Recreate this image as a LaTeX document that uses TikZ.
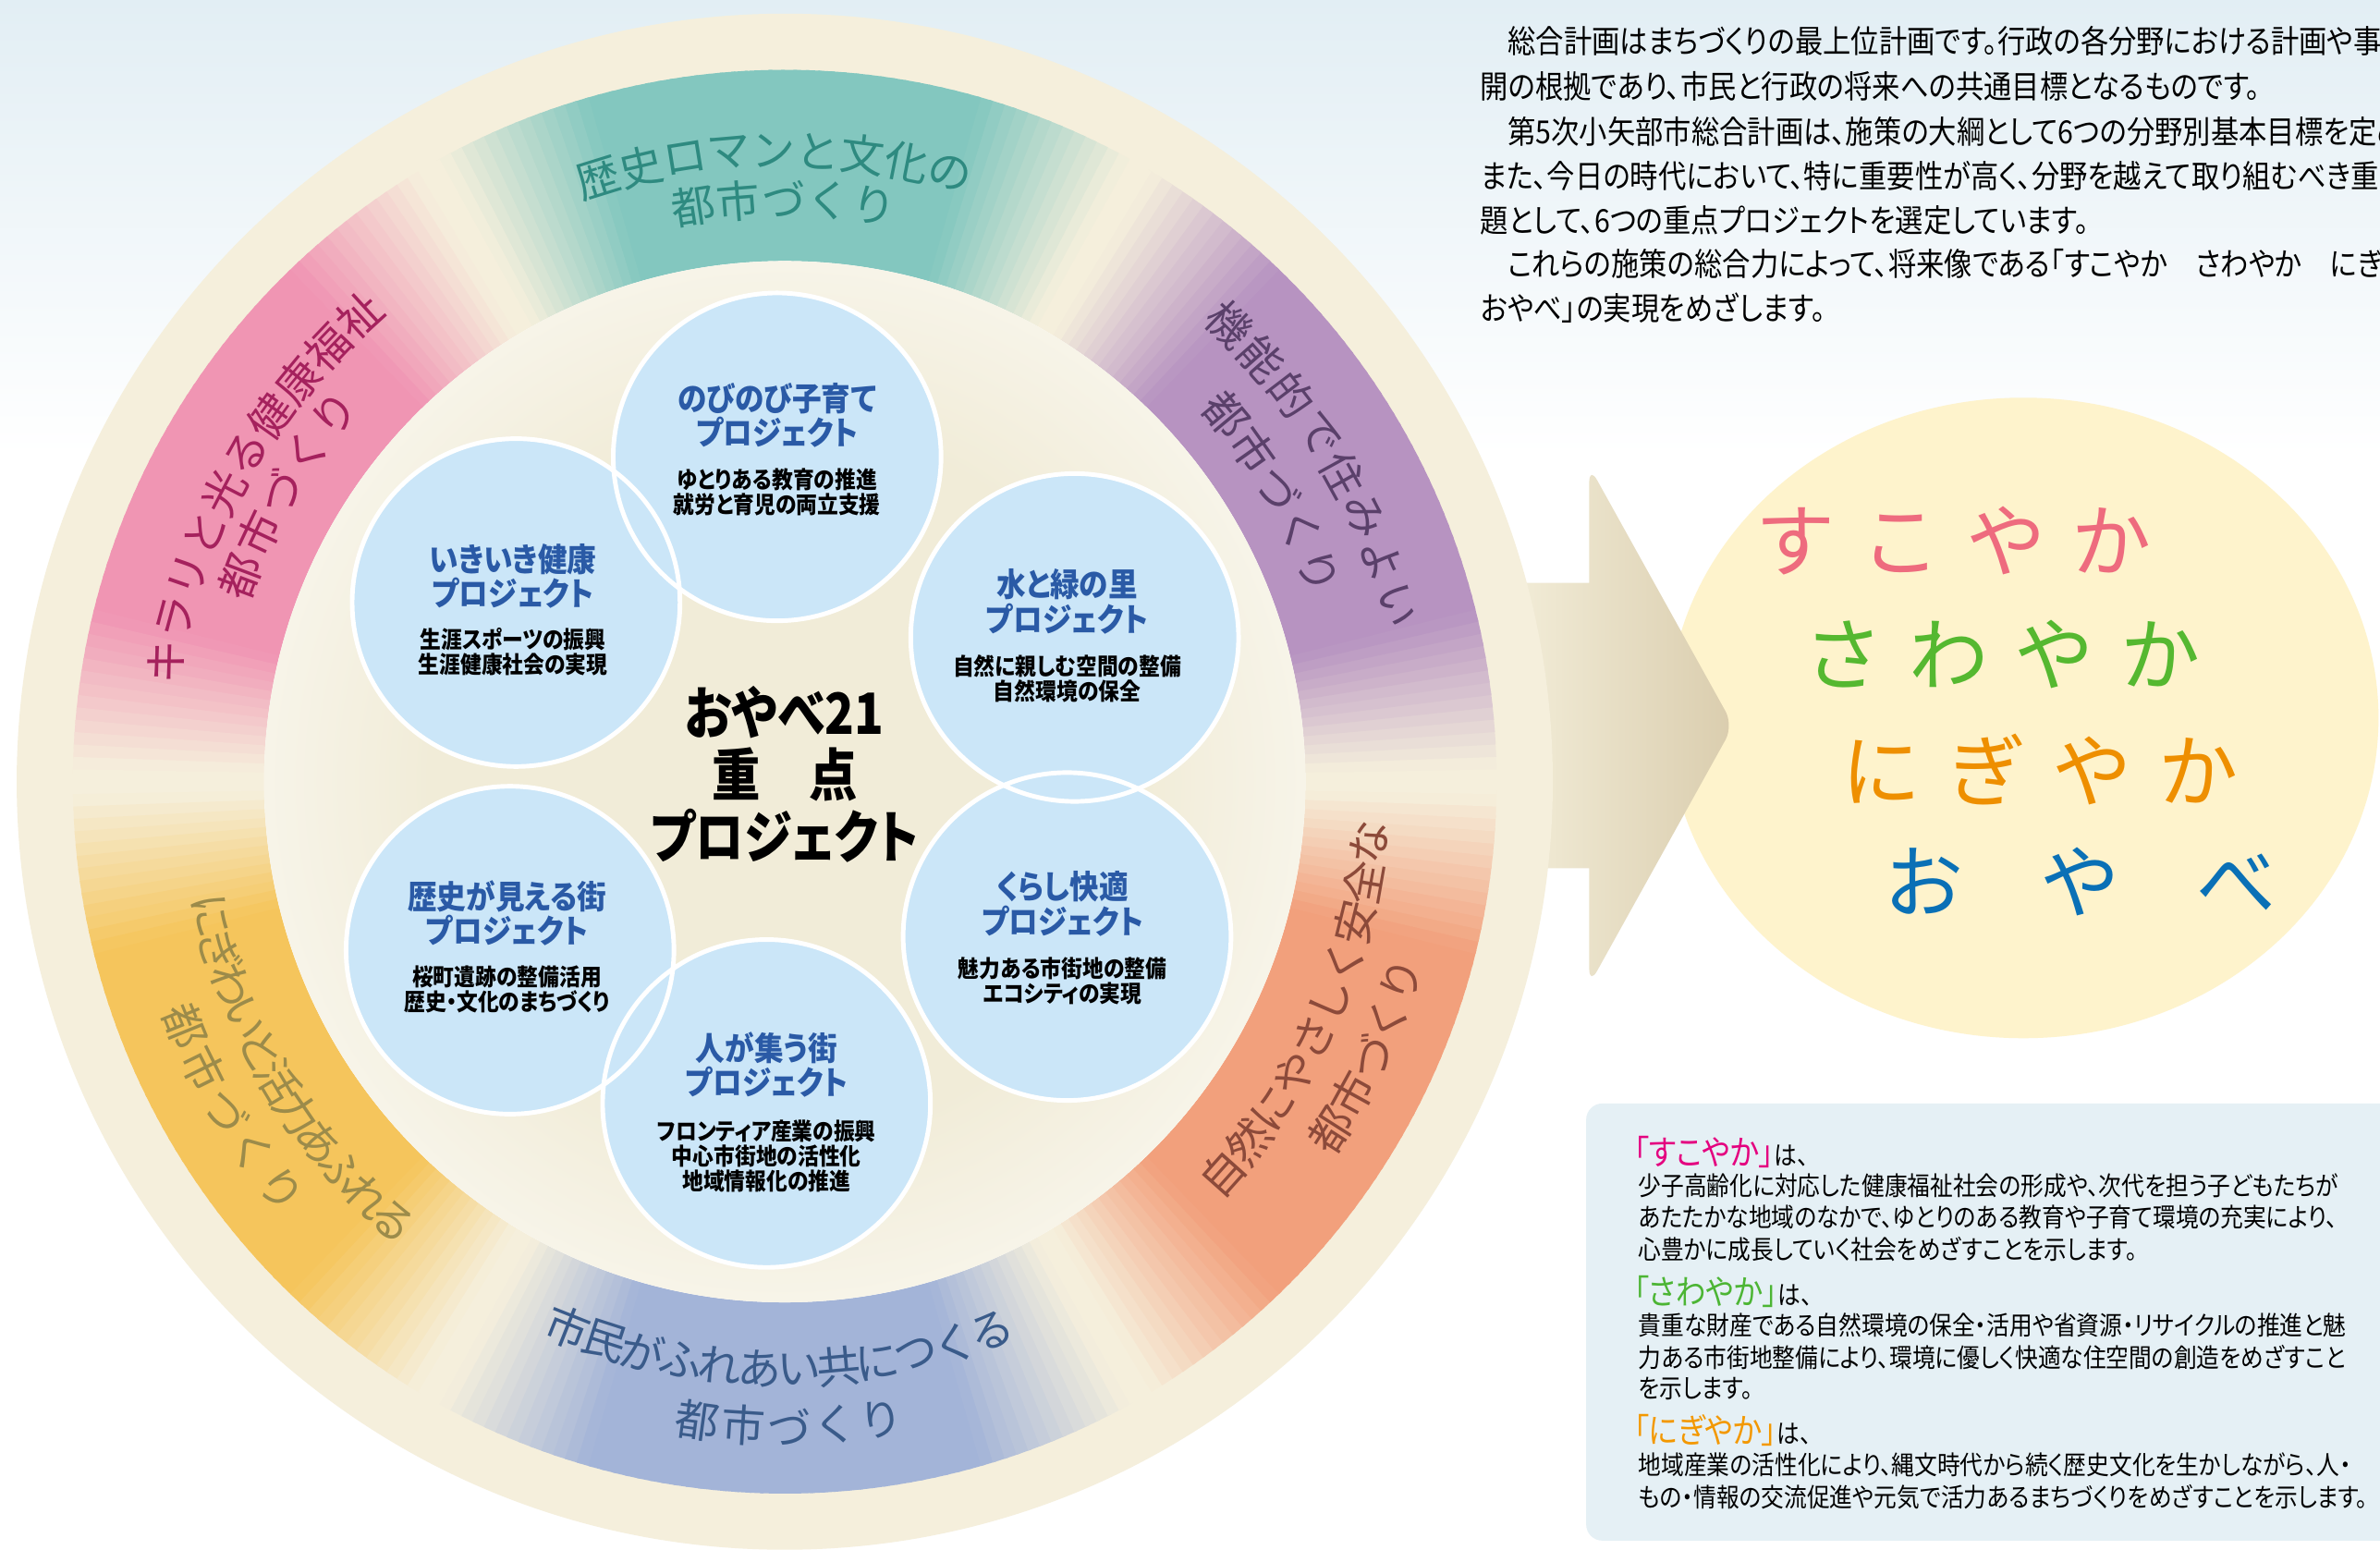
\documentclass[tikz,border=0pt]{standalone}
\usepackage{fontspec}
\setmainfont{Noto Sans CJK JP}
\newfontfamily\jcond[FakeStretch=0.88,RawFeature=+palt]{Noto Sans CJK JP}
\newfontfamily\jtitle[FakeStretch=0.9,RawFeature=+palt]{Noto Sans CJK JP}
\newfontfamily\jcent[FakeStretch=0.85,RawFeature=+palt]{Noto Sans CJK JP}
\newfontfamily\jring{Noto Sans CJK JP}
\usetikzlibrary{calc}

\definecolor{cream}{HTML}{F5EFDC}
\definecolor{bgblue}{HTML}{E2EEF4}
\definecolor{cpurple}{HTML}{B793C1}
\definecolor{cteal}{HTML}{83C7BF}
\definecolor{cpink}{HTML}{F095B3}
\definecolor{cyellow}{HTML}{F5C55C}
\definecolor{cblue}{HTML}{A3B4D8}
\definecolor{corange}{HTML}{F2A07C}
\definecolor{tteal}{HTML}{2E8A80}
\definecolor{tpurple}{HTML}{5A406A}
\definecolor{tpink}{HTML}{A5215D}
\definecolor{tyellow}{HTML}{9C8B4A}
\definecolor{tblue}{HTML}{3A5B8A}
\definecolor{torange}{HTML}{8C4A3A}
\definecolor{beige}{HTML}{F1ECD8}
\definecolor{circblue}{HTML}{CBE6F8}
\definecolor{titleblue}{HTML}{2A5AA6}
\definecolor{ellcol}{HTML}{FEF3CC}
\definecolor{arrL}{HTML}{F4EFDB}
\definecolor{arrR}{HTML}{DACDAE}
\definecolor{boxcol}{HTML}{E5F0F5}
\definecolor{kpink}{HTML}{EE6B7E}
\definecolor{kgreen}{HTML}{55B830}
\definecolor{korange}{HTML}{EE8F00}
\definecolor{kblue}{HTML}{0A70B6}
\definecolor{hmag}{HTML}{E4007F}
\definecolor{hgreen}{HTML}{4CB534}
\definecolor{horange}{HTML}{F39800}

\pgfdeclareradialshading{beigefade}{\pgfpoint{0bp}{0bp}}{color(0bp)=(beige); color(17bp)=(beige); color(36bp)=(white); color(50bp)=(white)}

\newcommand\ringcw[6]{%
  \foreach \ch [count=\i from 0] in {#1} {%
    \pgfmathsetmacro\ang{#3-\i*#4}%
    \node[ringtxt, text=#5, rotate=\ang-90] (#6-\i) at (\ang:#2) {\ch};
  }}
\newcommand\ringccw[6]{%
  \foreach \ch [count=\i from 0] in {#1} {%
    \pgfmathsetmacro\ang{#3+\i*#4}%
    \node[ringtxt, text=#5, rotate=\ang+90] (#6-\i) at (\ang:#2) {\ch};
  }}
\newcommand\kgap{\hspace{2.8mm}}
\newcommand\kgapw{\hspace{8.3mm}}

\tikzset{
 ringtxt/.style={font=\jring\fontsize{13.5}{13.5}\selectfont, inner sep=0},
 projc/.style={circle, fill=circblue, minimum size=35.47mm, inner sep=0},
 ptitle/.style={font=\jtitle\bfseries\fontsize{10}{10.7}\selectfont, text=titleblue, align=center, inner sep=0},
 psub/.style={font=\jtitle\bfseries\fontsize{7.2}{7.7}\selectfont, text=black, align=center, inner sep=0},
 para/.style={font=\jcond\fontsize{9.8}{13.7}\selectfont, anchor=west, inner sep=0, text=black},
 bbody/.style={font=\jcond\fontsize{8.0}{9.8}\selectfont, anchor=west, inner sep=0, text=black},
 bhead/.style={font=\jcond\fontsize{8.0}{10}\selectfont, anchor=west, inner sep=0, text=black},
 hcol/.style={font=\jcond\fontsize{10.5}{10.5}\selectfont},
 kana/.style={font=\jring\fontsize{24.5}{24.5}\selectfont, anchor=west, inner sep=0},
}
\newcommand\hc[2]{{\color{#1}\fontsize{10.5}{10.5}\selectfont 「#2」}}

\begin{document}
\begin{tikzpicture}[x=0.1642mm,y=-0.1642mm]
\useasboundingbox (0,0) rectangle (1568,1021);
\fill[white] (0,0) rectangle (1568,1021);
\shade[top color=bgblue, bottom color=white] (0,0) rectangle (1568,300);

% right ellipse
\fill[ellcol] (1333,473) ellipse[x radius=234, y radius=211];

% arrow
\shade[left color=arrL, right color=arrR] (985,384) -- (1047,384) [rounded corners=5pt] -- (1047,307) -- (1142,478) -- (1047,649) [sharp corners] -- (1047,572) -- (985,572) -- cycle;

% ring
\begin{scope}[shift={(517,515)}, yscale=-1]
 \fill[cream] (0,0) circle (506);
 \foreach \a in {0,...,359}{
   \pgfmathsetmacro\b{\a+1.3}
   \pgfmathsetmacro\d{mod(\a+0.5,60)}
   \pgfmathtruncatemacro\t{min(100,max(0,(min(\d,60-\d)-1)*100/13))}
   \pgfmathtruncatemacro\k{floor(\a/60)}
   \ifcase\k\def\col{cpurple}\or\def\col{cteal}\or\def\col{cpink}\or\def\col{cyellow}\or\def\col{cblue}\else\def\col{corange}\fi
   \fill[\col!\t!cream] (\a:343) arc[start angle=\a, end angle=\b, radius=343] -- (\b:469) arc[start angle=\b, end angle=\a, radius=469] -- cycle;
 }
 \fill[white] (0,0) circle (343);
 \shade[shading=beigefade] (0,0) circle (343);
 % ring texts
 \ringcw{歴,史,ロ,マ,ン,と,文,化,の}{416}{107.2}{4.05}{tteal}{ta}
 \ringcw{都,市,づ,く,り}{384}{99.0}{4.45}{tteal}{tb}
 \ringcw{機,能,的,で,住,み,よ,い}{420}{45.8}{4.24}{tpurple}{pa}
 \ringcw{都,市,づ,く,り}{378}{39.8}{4.58}{tpurple}{pb}
 \ringcw{キ,ラ,リ,と,光,る,健,康,福,祉}{415.5}{169.0}{4.07}{tpink}{ka}
 \ringcw{都,市,づ,く,り}{383}{159.4}{4.66}{tpink}{kb}
 \ringccw{自,然,に,や,さ,し,く,安,全,な}{387}{-41.8}{3.99}{torange}{oa}
 \ringccw{都,市,づ,く,り}{427}{-32.5}{3.66}{torange}{ob}
 \ringccw{市,民,が,ふ,れ,あ,い,共,に,つ,く,る}{387}{-111.7}{3.85}{tblue}{ba}
 \ringccw{都,市,づ,く,り}{425}{-97.8}{4.1}{tblue}{bb}
 \ringccw{に,ぎ,わ,い,と,活,力,あ,ふ,れ,る}{388}{-166.85}{3.51}{tyellow}{ya}
 \ringccw{都,市,づ,く,り}{427}{-157.85}{4.2}{tyellow}{yb}
\end{scope}

% project circles
\node[projc] (p1) at (512,301) {};
\node[projc] (p2) at (340,397) {};
\node[projc] (p3) at (708,420) {};
\node[projc] (p4) at (336,626) {};
\node[projc] (p5) at (703,617) {};
\node[projc] (p6) at (505,727) {};
\foreach \n in {p1,p2,p3,p4,p5,p6} \draw[white, line width=1.4pt] (\n.center) circle[radius=108];

\node[ptitle] (t1) at (512,273.5) {のびのび子育て\\プロジェクト};
\node[psub] (s1) at (512,324) {ゆとりある教育の推進\\就労と育児の両立支援};
\node[ptitle] (t2) at (338,379.5) {いきいき健康\\プロジェクト};
\node[psub] (s2) at (338,429.5) {生涯スポーツの振興\\生涯健康社会の実現};
\node[ptitle] (t3) at (703,396.5) {水と緑の里\\プロジェクト};
\node[psub] (s3) at (703,447) {自然に親しむ空間の整備\\自然環境の保全};
\node[ptitle] (t4) at (334,601.5) {歴史が見える街\\プロジェクト};
\node[psub] (s4) at (334,652) {桜町遺跡の整備活用\\歴史・文化のまちづくり};
\node[ptitle] (t5) at (700,595.5) {くらし快適\\プロジェクト};
\node[psub] (s5) at (700,646.5) {魅力ある市街地の整備\\エコシティの実現};
\node[ptitle] (t6) at (505,701.5) {人が集う街\\プロジェクト};
\node[psub] (s6) at (505,761.5) {フロンティア産業の振興\\中心市街地の活性化\\地域情報化の推進};

\node[font=\jcent\bfseries\fontsize{17.5}{19.1}\selectfont, align=center, inner sep=0] (ctr) at (517,510) {おやべ21\\重　点\\プロジェクト};

% kana in ellipse
\node[kana, text=kpink] (k1) at (1156,356) {す\kgap こ\kgap や\kgap か};
\node[kana, text=kgreen] (k2) at (1188,431) {さ\kgap わ\kgap や\kgap か};
\node[kana, text=korange] (k3) at (1213,507) {に\kgap ぎ\kgap や\kgap か};
\node[kana, text=kblue] (k4) at (1241,581) {お\kgapw や\kgapw べ};

% top paragraph
\node[para] (L1) at (993,27) {総合計画はまちづくりの最上位計画です。行政の各分野における計画や事};
\node[para] (L2) at (975,57) {開の根拠であり、市民と行政の将来への共通目標となるものです。};
\node[para] (L3) at (993,87) {第5次小矢部市総合計画は、施策の大綱として6つの分野別基本目標を定め};
\node[para] (L4) at (975,116) {また、今日の時代において、特に重要性が高く、分野を越えて取り組むべき重};
\node[para] (L5) at (975,145) {題として、6つの重点プロジェクトを選定しています。};
\node[para] (L6) at (993,174) {これらの施策の総合力によって、将来像である「すこやか　さわやか　にぎ};
\node[para] (L7) at (975,203) {おやべ」の実現をめざします。};

% bottom box
\fill[boxcol, rounded corners=5pt] (1045,727) rectangle (1600,1015);
\node[bhead] (h1) at (1076,759) {\hc{hmag}{すこやか}は、};
\node[bbody] (b1) at (1079,781) {少子高齢化に対応した健康福祉社会の形成や、次代を担う子どもたちが};
\node[bbody] (b2) at (1079,802) {あたたかな地域のなかで、ゆとりのある教育や子育て環境の充実により、};
\node[bbody] (b3) at (1079,823) {心豊かに成長していく社会をめざすことを示します。};
\node[bhead] (h2) at (1076,851) {\hc{hgreen}{さわやか}は、};
\node[bbody] (b4) at (1079,873) {貴重な財産である自然環境の保全・活用や省資源・リサイクルの推進と魅};
\node[bbody] (b5) at (1079,894) {力ある市街地整備により、環境に優しく快適な住空間の創造をめざすこと};
\node[bbody] (b6) at (1079,915) {を示します。};
\node[bhead] (h3) at (1076,942) {\hc{horange}{にぎやか}は、};
\node[bbody] (b7) at (1079,965) {地域産業の活性化により、縄文時代から続く歴史文化を生かしながら、人・};
\node[bbody] (b8) at (1079,986) {もの・情報の交流促進や元気で活力あるまちづくりをめざすことを示します。};
\end{tikzpicture}
\end{document}
